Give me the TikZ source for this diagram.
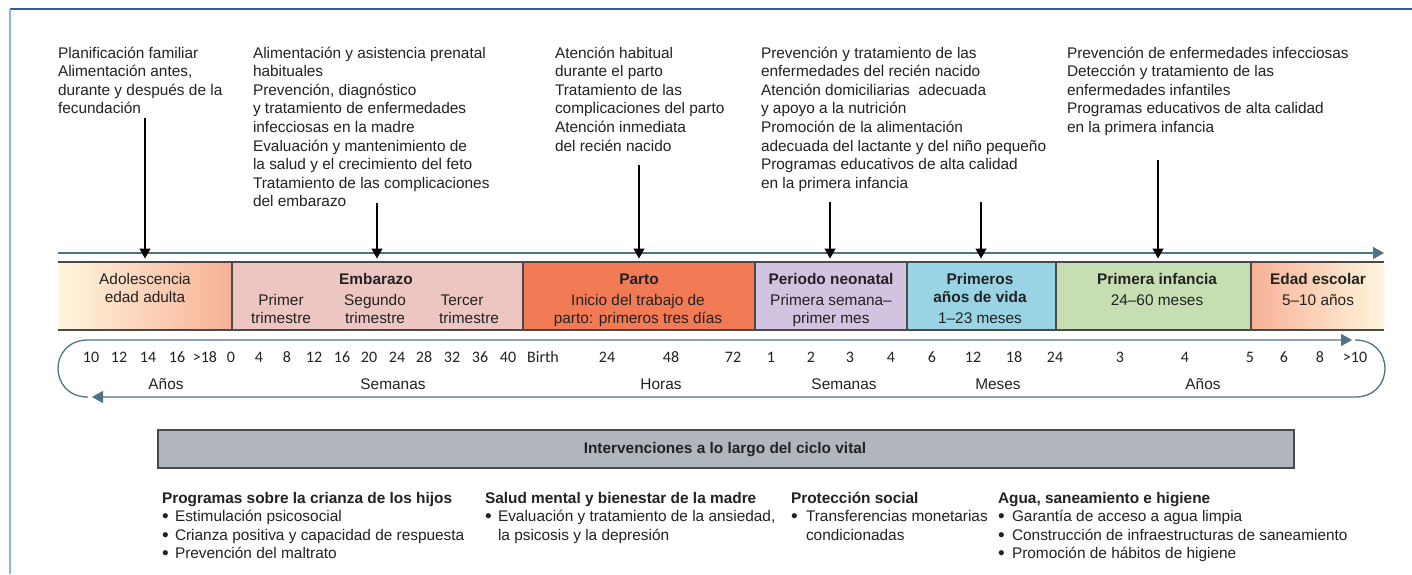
\documentclass[tikz,border=0pt]{standalone}
\usepackage{fontspec}
\setmainfont{Liberation Sans}
\newfontfamily\numfont{Carlito}
\usetikzlibrary{arrows.meta}
\definecolor{frametop}{HTML}{2D5F9A}
\definecolor{frameleft}{HTML}{8EB4DF}
\definecolor{tl}{HTML}{4E7484}
\definecolor{bandline}{HTML}{4A4A4A}
\definecolor{cream}{HTML}{FFF5DD}
\definecolor{salmon}{HTML}{F7B195}
\definecolor{embc}{HTML}{EDC6C1}
\definecolor{partoc}{HTML}{F27B56}
\definecolor{neoc}{HTML}{D2C4E1}
\definecolor{primc}{HTML}{99D4E4}
\definecolor{infc}{HTML}{C6DEB1}
\definecolor{grayc}{HTML}{B0B6BC}
\definecolor{ink}{HTML}{222222}
\newcommand{\txtlines}[5]{%
  \foreach \tline [count=\idx] in {#5} {%
    \node[txt, anchor=base west] (#1\idx) at ({#2},{#3+(\idx-1)*#4}) {\tline};}}
\newcommand{\bul}[1][13pt]{\makebox[#1][l]{\raisebox{-1pt}{\fontsize{19}{19}\selectfont•}}}
\begin{document}
\begin{tikzpicture}[x=1pt,y=-1pt,
  txt/.style={inner sep=0pt, outer sep=0pt, text=ink, font=\fontsize{15.4}{18.5}\selectfont},
  btxt/.style={txt, font=\fontsize{15.4}{18.5}\selectfont\bfseries},
  num/.style={inner sep=0pt, outer sep=0pt, text=ink, font=\fontsize{16}{18}\selectfont\numfont},
  band/.style={rectangle, draw=none, inner sep=0pt, outer sep=0pt, anchor=north west, minimum height=68pt},
  downarrow/.style={draw=black, line width=1.3pt, -{Triangle[length=10pt,width=11pt]}},
  tlarrow/.style={draw=tl, line width=1.3pt, -{Triangle[length=11pt,width=12pt]}},
  ]
\useasboundingbox (0,0) rectangle (1412,574);
\fill[white] (0,0) rectangle (1412,574);
% frame
\draw[frametop, line width=1.5pt] (10,9) -- (1412,9);
\draw[frameleft, line width=2.5pt] (10,9) -- (10,574);

% top texts
\txtlines{b1-}{58}{58.3}{18.55}{Planificación familiar, {Alimentación antes,}, durante y después de la, fecundación}
\txtlines{b2-}{253}{58.3}{18.55}{Alimentación y asistencia prenatal, habituales, {Prevención, diagnóstico}, y tratamiento de enfermedades, infecciosas en la madre, Evaluación y mantenimiento de, la salud y el crecimiento del feto, Tratamiento de las complicaciones, del embarazo}
\txtlines{b3-}{555}{58.3}{18.55}{Atención habitual, durante el parto, Tratamiento de las, complicaciones del parto, Atención inmediata, del recién nacido}
\txtlines{b4-}{761}{58.3}{18.55}{Prevención y tratamiento de las, enfermedades del recién nacido, Atención domiciliarias\ \ adecuada, y apoyo a la nutrición, Promoción de la alimentación, adecuada del lactante y del niño pequeño, Programas educativos de alta calidad, en la primera infancia}
\txtlines{b5-}{1067}{58.3}{18.55}{Prevención de enfermedades infecciosas, Detección y tratamiento de las, enfermedades infantiles, Programas educativos de alta calidad, en la primera infancia}

% timeline arrow
\coordinate (tlS) at (58,253);
\coordinate (tlE) at (1384,253);
\draw[tlarrow] (tlS) -- (tlE);

% down arrows
\foreach \ax/\ay [count=\j] in {145/118, 377/203, 639/165, 830/202, 981/202, 1158/160} {
  \coordinate (as\j) at (\ax,\ay);
  \coordinate (ae\j) at (\ax,258.5);
  \draw[downarrow] (as\j) -- (ae\j);
}

% band
\node[band, minimum width=174pt, left color=cream, right color=salmon] (adol) at (58,262) {};
\node[band, minimum width=291pt, fill=embc] (emb) at (232,262) {};
\node[band, minimum width=232pt, fill=partoc] (parto) at (523,262) {};
\node[band, minimum width=152pt, fill=neoc] (neo) at (755,262) {};
\node[band, minimum width=149pt, fill=primc] (prim) at (907,262) {};
\node[band, minimum width=195pt, fill=infc] (inf) at (1056,262) {};
\node[band, minimum width=133pt, left color=salmon, right color=cream] (esc) at (1251,262) {};
\draw[bandline, line width=1.3pt] (adol.north west) -- (esc.north east);
\draw[bandline, line width=1.6pt] (adol.south west) -- (esc.south east);
\foreach \b in {emb,parto,neo,prim,inf,esc} \draw[bandline, line width=1.2pt] (\b.north west) -- (\b.south west);

% band texts
\node[txt, anchor=base] (t-adol1) at (145,284.5) {Adolescencia};
\node[txt, anchor=base] (t-adol2) at (145,302.5) {edad adulta};
\node[btxt, anchor=base] (t-emb) at (376,284.5) {Embarazo};
\node[txt, anchor=base] (t-emb1a) at (281,305.7) {Primer};
\node[txt, anchor=base] (t-emb1b) at (281,323.5) {trimestre};
\node[txt, anchor=base] (t-emb2a) at (375,305.7) {Segundo};
\node[txt, anchor=base] (t-emb2b) at (375,323.5) {trimestre};
\node[txt, anchor=base] (t-emb3a) at (462,305.7) {Tercer};
\node[txt, anchor=base] (t-emb3b) at (469,323.5) {trimestre};
\node[btxt, anchor=base] (t-parto) at (639,284.5) {Parto};
\node[txt, anchor=base] (t-parto1) at (638,305.7) {Inicio del trabajo de};
\node[txt, anchor=base] (t-parto2) at (638,323.5) {parto: primeros tres días};
\node[btxt, anchor=base] (t-neo) at (831,284.5) {Periodo neonatal};
\node[txt, anchor=base] (t-neo1) at (831,305.7) {Primera semana–};
\node[txt, anchor=base] (t-neo2) at (831,323.5) {primer mes};
\node[btxt, anchor=base] (t-prim) at (980,284.5) {Primeros};
\node[btxt, anchor=base] (t-prim1) at (980,302.5) {años de vida};
\node[txt, anchor=base] (t-prim2) at (980,323.5) {1–23 meses};
\node[btxt, anchor=base] (t-inf) at (1157,284.5) {Primera infancia};
\node[txt, anchor=base] (t-inf1) at (1157,305.7) {24–60 meses};
\node[btxt, anchor=base] (t-esc) at (1318,284.5) {Edad escolar};
\node[txt, anchor=base] (t-esc1) at (1318,305.7) {5–10 años};

% scale loop
\coordinate (l1) at (88,397);
\coordinate (l2) at (88,340);
\coordinate (l3) at (1352,340);
\draw[tlarrow] (l1) .. controls (48,397) and (48,340) .. (l2) -- (l3);
\coordinate (r1) at (1355,340);
\coordinate (r2) at (1355,397);
\coordinate (r3) at (92,397);
\draw[tlarrow] (r1) .. controls (1395,340) and (1395,397) .. (r2) -- (r3);

% numbers
\foreach \xx/\lab in {91/10,119/12,148/14,177/16,205/{>18},231/0,259/4,287/8,314/12,342/16,369/20,397/24,424/28,452/32,480/36,508/40,543/Birth,607/24,671/48,733/72,771/1,811/2,850/3,891/4,932/6,973/12,1014/18,1055/24,1120/3,1185/4,1250/5,1284/6,1320/8,1355/{>10}}
  \node[num, anchor=base] (n\xx) at (\xx,362) {\lab};
\foreach \xx/\lab in {166/Años, 393/Semanas, 661/Horas, 844/Semanas, 998/Meses, 1203/Años}
  \node[txt, anchor=base] (u\xx) at (\xx,389) {\lab};

% interventions box
\node[draw=bandline, line width=1.5pt, fill=grayc, minimum width=1136pt, minimum height=38pt, anchor=north west, inner sep=0pt] (ibox) at (157,429) {};
\node[btxt, anchor=base] (ititle) at (725,453.5) {Intervenciones a lo largo del ciclo vital};

% bottom columns
\txtlines{c1-}{162}{503.5}{18.3}{\textbf{Programas sobre la crianza de los hijos}, \bul Estimulación psicosocial, \bul Crianza positiva y capacidad de respuesta, \bul Prevención del maltrato}
\txtlines{c2-}{485}{503.5}{18.3}{\textbf{Salud mental y bienestar de la madre}, {\bul Evaluación y tratamiento de la ansiedad,}, \hspace*{13pt}la psicosis y la depresión}
\txtlines{c3-}{791}{503.5}{18.3}{\textbf{Protección social}, \bul[15pt]Transferencias monetarias, \hspace*{15pt}condicionadas}
\txtlines{c4-}{998}{503.5}{18.3}{{\textbf{Agua, saneamiento e higiene}}, \bul[14pt]Garantía de acceso a agua limpia, \bul[14pt]Construcción de infraestructuras de saneamiento, \bul[14pt]Promoción de hábitos de higiene}
\end{tikzpicture}
\end{document}
